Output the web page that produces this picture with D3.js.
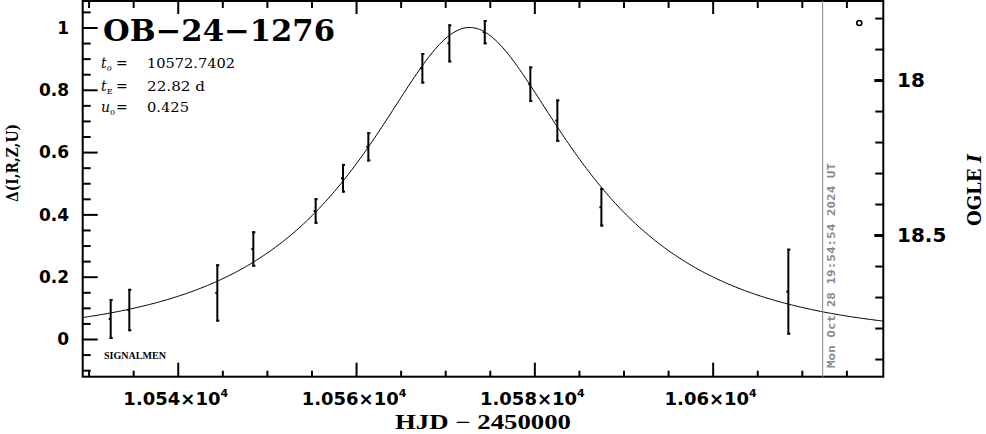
<!DOCTYPE html>
<html>
<head>
<meta charset="utf-8">
<script src="https://cdn.jsdelivr.net/npm/d3@7/dist/d3.min.js"></script>
<style>
  html, body { margin: 0; padding: 0; background: #fff; }
  svg { display: block; }
</style>
</head>
<body>
<svg id="chart" width="986" height="434"></svg>
<script>
// ---------------- data ----------------
const eventName = "OB\u221224\u22121276";
const paramT0 = 10572.7402;
const paramTE = 22.82;
const paramU0 = 0.425;
const paramLabels = ["10572.7402", "22.82 d", "0.425"];

const hjd   = [10532.48, 10534.57, 10544.44, 10548.48, 10555.47, 10558.54, 10561.38,
               10567.44, 10570.47, 10574.44, 10579.55, 10582.58, 10587.52, 10608.49];
const delta = [0.064, 0.093, 0.148, 0.289, 0.411, 0.516, 0.617,
               0.869, 0.949, 0.985, 0.818, 0.701, 0.423, 0.152];
const err   = [0.064, 0.068, 0.092, 0.057, 0.041, 0.046, 0.047,
               0.049, 0.061, 0.039, 0.057, 0.068, 0.062, 0.138];

const xDomain = [10529.34, 10619.14];
const yDomain = [-0.121, 1.085];
const magDomain = [17.745, 18.957];

const xMajor = [10540, 10560, 10580, 10600];
const xMantissa = ["1.054", "1.056", "1.058", "1.06"];
const xExponent = "4";
const yMajor = [0, 0.2, 0.4, 0.6, 0.8, 1];
const yLabels = ["0", "0.2", "0.4", "0.6", "0.8", "1"];
const magMajor = [18, 18.5];
const magLabels = ["18", "18.5"];

const nowHJD = 10612.33;
const nowText = "Mon Oct 28 19:54:54 2024 UT";

// ---------------- layout ----------------
const L = 82.7, R = 883.3, T = 1, B = 376.7;
const svg = d3.select("#chart");

const x = d3.scaleLinear().domain(xDomain).range([L, R]);
const y = d3.scaleLinear().domain(yDomain).range([B, T]);
const ym = d3.scaleLinear().domain(magDomain).range([T, B]);

const xMinor = d3.range(10530, 10620, 5).filter(v => !xMajor.includes(v));
const yMinor = d3.range(-0.1, 1.08, 0.05).map(v => +v.toFixed(2)).filter(v => !yMajor.includes(v));
const magTicks = d3.range(17.8, 18.96, 0.1).map(v => +v.toFixed(1));

const tickStyle = g => {
  g.select(".domain").remove();
  g.selectAll(".tick line").attr("stroke", "#000").attr("stroke-width", 2);
  g.selectAll(".tick text").remove();
};

// bottom ticks
svg.append("g").attr("transform", `translate(0,${B})`)
  .call(d3.axisBottom(x).tickValues(xMajor).tickSize(-14).tickFormat("")).call(tickStyle);
svg.append("g").attr("transform", `translate(0,${B})`)
  .call(d3.axisBottom(x).tickValues(xMinor).tickSize(-6).tickFormat("")).call(tickStyle);
// top ticks
svg.append("g").attr("transform", `translate(0,${T})`)
  .call(d3.axisTop(x).tickValues(xMajor).tickSize(-13).tickFormat("")).call(tickStyle);
svg.append("g").attr("transform", `translate(0,${T})`)
  .call(d3.axisTop(x).tickValues(xMinor).tickSize(-7).tickFormat("")).call(tickStyle);
// left ticks
svg.append("g").attr("transform", `translate(${L},0)`)
  .call(d3.axisLeft(y).tickValues(yMajor).tickSize(-15).tickFormat("")).call(tickStyle);
svg.append("g").attr("transform", `translate(${L},0)`)
  .call(d3.axisLeft(y).tickValues(yMinor).tickSize(-8).tickFormat("")).call(tickStyle);
// right ticks (magnitude)
svg.append("g").attr("transform", `translate(${R},0)`)
  .call(d3.axisRight(ym).tickValues(magTicks).tickSize(-8).tickFormat("")).call(tickStyle);
svg.append("g").attr("transform", `translate(${R},0)`)
  .call(d3.axisRight(ym).tickValues(magMajor).tickSize(-9).tickFormat("")).call(g => {
    tickStyle(g); g.selectAll(".tick line").attr("stroke-width", 3);
  });

// frame
svg.append("rect").attr("x", L).attr("y", T).attr("width", R - L).attr("height", B - T)
  .attr("fill", "none").attr("stroke", "#000").attr("stroke-width", 2);

// x tick labels
const xl = svg.append("g").attr("font-family", "DejaVu Sans").attr("font-weight", "bold")
  .attr("font-size", 18).attr("fill", "#000");
xMajor.forEach((v, i) => {
  const t = xl.append("text").attr("x", x(v) - 2).attr("y", 405).attr("text-anchor", "middle");
  t.append("tspan").text(xMantissa[i] + "\u00d710");
  t.append("tspan").attr("font-size", 11).attr("dy", -8).text(xExponent);
});
svg.append("text").attr("x", 483).attr("y", 429).attr("text-anchor", "middle")
  .attr("font-family", "Liberation Serif").attr("font-weight", "bold").attr("font-size", 20)
  .attr("textLength", 176).attr("lengthAdjust", "spacingAndGlyphs")
  .text("HJD  \u2212  2450000");

// y tick labels
svg.append("g").selectAll("text").data(yMajor).join("text")
  .attr("x", 69).attr("y", d => y(d)).attr("dy", "0.36em").attr("text-anchor", "end")
  .attr("font-family", "DejaVu Sans").attr("font-weight", "bold").attr("font-size", 17)
  .text((d, i) => yLabels[i]);
svg.append("text").attr("transform", "translate(18,163) rotate(-90)").attr("text-anchor", "middle")
  .attr("font-family", "DejaVu Serif").attr("font-weight", "bold").attr("font-size", 16)
  .attr("textLength", 78).attr("lengthAdjust", "spacingAndGlyphs")
  .text("\u0394(I,R,Z,U)");

// right labels
svg.append("g").selectAll("text").data(magMajor).join("text")
  .attr("x", 897).attr("y", d => ym(d)).attr("dy", "0.36em").attr("text-anchor", "start")
  .attr("font-family", "DejaVu Sans").attr("font-weight", "bold").attr("font-size", 20)
  .text((d, i) => magLabels[i]);
const ogle = svg.append("text").attr("transform", "translate(981,190) rotate(-90)")
  .attr("text-anchor", "middle").attr("font-family", "DejaVu Serif").attr("font-weight", "bold")
  .attr("font-size", 19).attr("textLength", 72).attr("lengthAdjust", "spacingAndGlyphs");
ogle.append("tspan").text("OGLE ");
ogle.append("tspan").attr("font-style", "italic").text("I");

// clip
svg.append("clipPath").attr("id", "clip").append("rect")
  .attr("x", L).attr("y", T).attr("width", R - L).attr("height", B - T);

// model curve from displayed parameters
function ampl(u) { return (u * u + 2) / (u * Math.sqrt(u * u + 4)); }
const a0 = Math.log10(ampl(paramU0));
const modelT = d3.range(xDomain[0], xDomain[1] + 0.25, 0.25);
const modelLine = d3.line()
  .x(t => x(t))
  .y(t => {
    const tau = (t - paramT0) / paramTE;
    const u = Math.sqrt(paramU0 * paramU0 + tau * tau);
    return y(Math.log10(ampl(u)) / a0);
  });
svg.append("path").attr("clip-path", "url(#clip)").attr("d", modelLine(modelT))
  .attr("fill", "none").attr("stroke", "#000").attr("stroke-width", 1);

// "now" line
svg.append("line").attr("x1", x(nowHJD)).attr("x2", x(nowHJD)).attr("y1", T).attr("y2", B)
  .attr("stroke", "#999").attr("stroke-width", 1.2);
svg.append("text").attr("transform", `translate(${x(nowHJD) + 12},368) rotate(-90)`)
  .attr("font-family", "DejaVu Sans Mono").attr("font-weight", "bold").attr("font-size", 11)
  .attr("fill", "#8a8a8a").attr("textLength", 205).attr("lengthAdjust", "spacingAndGlyphs")
  .text(nowText);

// error bars
const eb = svg.append("g").attr("stroke", "#000").attr("stroke-width", 2);
hjd.forEach((t, i) => {
  const cx = x(t), y1 = y(delta[i] + err[i]), y2 = y(delta[i] - err[i]);
  eb.append("line").attr("x1", cx).attr("x2", cx).attr("y1", y1).attr("y2", y2);
  eb.append("line").attr("x1", cx - 1).attr("x2", cx + 2).attr("y1", y1 + 1).attr("y2", y1 + 1);
  eb.append("line").attr("x1", cx - 1).attr("x2", cx + 2).attr("y1", y2 - 1).attr("y2", y2 - 1);
  eb.append("rect").attr("x", cx - 2).attr("y", y(delta[i]) - 1).attr("width", 2).attr("height", 2)
    .attr("stroke", "none").attr("fill", "#000");
});

// legend marker
svg.append("circle").attr("cx", R - 24).attr("cy", T + 22).attr("r", 2.5)
  .attr("fill", "none").attr("stroke", "#000").attr("stroke-width", 1.6);

// title and parameters
svg.append("text").attr("x", 103).attr("y", 41)
  .attr("font-family", "DejaVu Serif").attr("font-weight", "bold").attr("font-size", 30)
  .attr("textLength", 232).attr("lengthAdjust", "spacingAndGlyphs").text(eventName);

const pNames = [["t", "0"], ["t", "E"], ["u", "0"]];
const pBase = [68, 90.5, 112];
const pWidths = [88, 58, 42];
pNames.forEach((p, i) => {
  const g = svg.append("g").attr("font-family", "DejaVu Serif").attr("font-size", 12.5).attr("fill", "#000");
  const t = g.append("text").attr("x", 101).attr("y", pBase[i]);
  t.append("tspan").attr("font-style", "italic").attr("font-size", 14).text(p[0]);
  t.append("tspan").attr("font-size", 8).attr("dy", 3).text(p[1]);
  g.append("text").attr("x", 116).attr("y", pBase[i]).attr("font-size", 14).text("=");
  g.append("text").attr("x", 147).attr("y", pBase[i]).attr("textLength", pWidths[i])
    .attr("lengthAdjust", "spacingAndGlyphs").text(paramLabels[i]);
});

svg.append("text").attr("x", 104).attr("y", 359)
  .attr("font-family", "Liberation Serif").attr("font-weight", "bold").attr("font-size", 10.5)
  .attr("textLength", 62).attr("lengthAdjust", "spacingAndGlyphs").text("SIGNALMEN");
</script>
</body>
</html>
